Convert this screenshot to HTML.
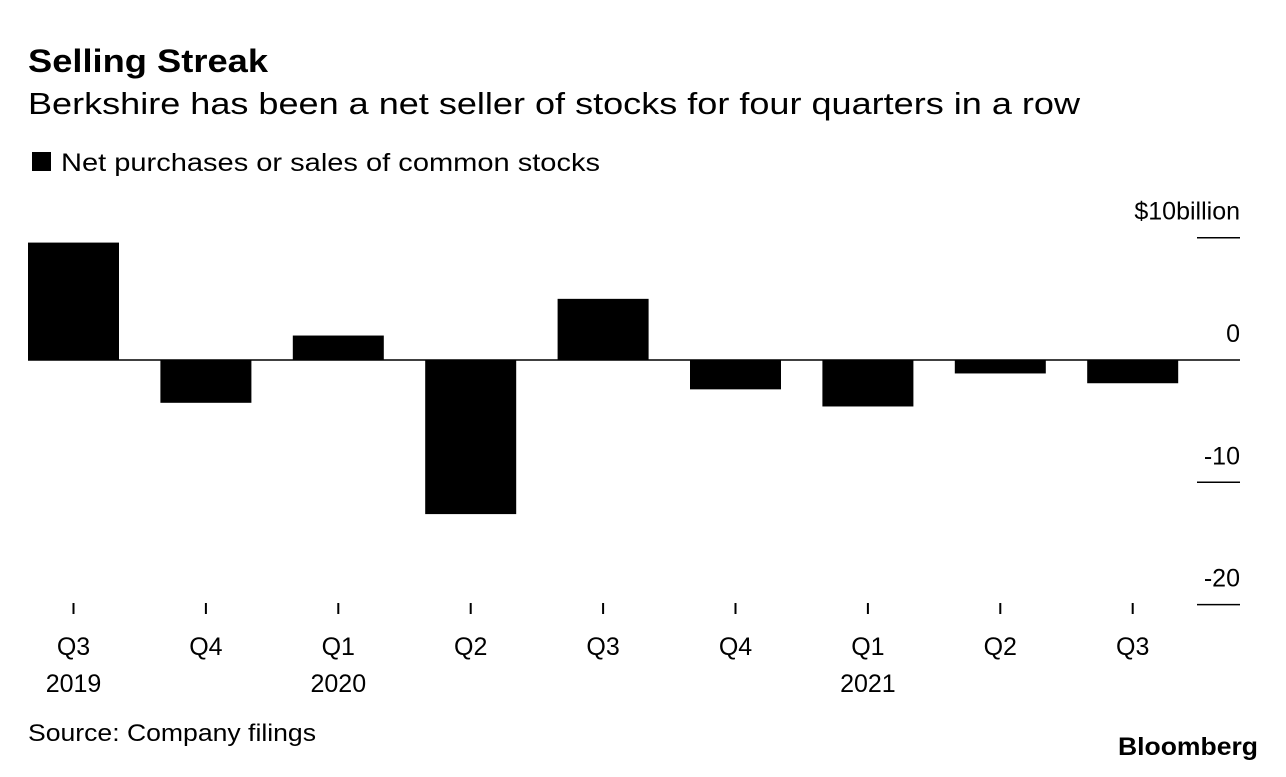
<!DOCTYPE html>
<html><head><meta charset="utf-8"><style>
body{margin:0;background:#fff;width:1286px;height:772px;overflow:hidden;font-family:"Liberation Sans",sans-serif;}
svg text{font-family:"Liberation Sans",sans-serif;}
</style></head><body>
<svg width="1286" height="772">
<text x="28" y="72" font-size="32" font-weight="bold" fill="#000" textLength="240" lengthAdjust="spacingAndGlyphs">Selling Streak</text>
<text x="28" y="114" font-size="31" fill="#000" textLength="1052" lengthAdjust="spacingAndGlyphs">Berkshire has been a net seller of stocks for four quarters in a row</text>
<rect x="32" y="152" width="19" height="19" fill="#000"/>
<text x="61" y="171" font-size="25" fill="#000" textLength="539" lengthAdjust="spacingAndGlyphs">Net purchases or sales of common stocks</text>
<g id="plot"></g>
<text x="28" y="741" font-size="24" fill="#000" textLength="288" lengthAdjust="spacingAndGlyphs">Source: Company filings</text>
<text x="1258" y="755" font-size="25" font-weight="bold" text-anchor="end" fill="#000" textLength="140" lengthAdjust="spacingAndGlyphs">Bloomberg</text>
</svg>
<script>
const categories=["Q3","Q4","Q1","Q2","Q3","Q4","Q1","Q2","Q3"];
const years=["2019","","2020","","","","2021","",""];
const values=[9.6,-3.5,2.0,-12.6,5.0,-2.4,-3.8,-1.1,-1.9];
const yTicks=[10,0,-10,-20];
const yTickLabels=["$10billion","0","-10","-20"];
const ns="http://www.w3.org/2000/svg";
const g=document.getElementById("plot");
const y0=360,ppu=12.23;
function y(v){return y0-v*ppu;}
function xc(i){return 73.5+i*132.4;}
const bw=91;
function mk(t,a){const e=document.createElementNS(ns,t);for(const k in a)e.setAttribute(k,a[k]);g.appendChild(e);return e;}
values.forEach((v,i)=>{
 const r=mk("rect",{x:xc(i)-bw/2,y:Math.min(y(v),y(0)),width:bw,height:Math.abs(y(v)-y(0)),fill:"#000"});
 
 
});
const zl=mk("line",{x1:28,x2:1240,y1:y(0),y2:y(0),stroke:"#000","stroke-width":1.5});


yTicks.forEach((t,i)=>{
 if(t!==0){const l=mk("line",{x1:1197,x2:1240,y1:y(t),y2:y(t),stroke:"#000","stroke-width":1.5});
 
 }
 const tx=mk("text",{x:1240,y:y(t)-18,"font-size":25,"text-anchor":"end",fill:"#000"});
 tx.textContent=yTickLabels[i];
 
 
});
categories.forEach((c,i)=>{
 const l=mk("line",{x1:xc(i),x2:xc(i),y1:603,y2:614,stroke:"#000","stroke-width":2});
 
 
 const t=mk("text",{x:xc(i),y:655,"font-size":25,"text-anchor":"middle",fill:"#000"});
 t.textContent=c;
 
 
 if(years[i]){const yy=mk("text",{x:xc(i),y:692,"font-size":25,"text-anchor":"middle",fill:"#000"});
 yy.textContent=years[i];
 
 }
});
</script>
</body></html>
